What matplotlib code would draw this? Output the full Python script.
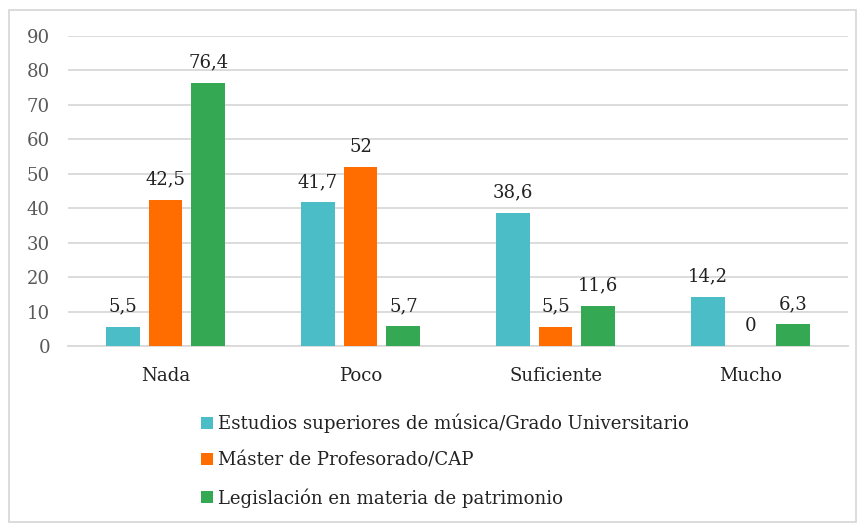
import matplotlib
matplotlib.use("Agg")
import matplotlib.pyplot as plt
import numpy as np
from matplotlib.patches import Rectangle

# data
categories = ["Nada", "Poco", "Suficiente", "Mucho"]
series_names = ["Estudios superiores de música/Grado Universitario",
                "Máster de Profesorado/CAP",
                "Legislación en materia de patrimonio"]
estudios = [5.5, 41.7, 38.6, 14.2]
master = [42.5, 52, 5.5, 0]
legislacion = [76.4, 5.7, 11.6, 6.3]
colors = ["#4ABDC6", "#FF6D00", "#35A853"]
yticks = [0, 10, 20, 30, 40, 50, 60, 70, 80, 90]

plt.rcParams["font.family"] = ["DejaVu Serif"]
fs = 13.1

fig = plt.figure(figsize=(8.62, 5.24), dpi=100)
ax = fig.add_axes([0.0789, 0.3397, 0.9049, 0.5916])

x = np.arange(len(categories))
width = 0.174
step = 0.22
all_series = [estudios, master, legislacion]
for i, (vals, name, col) in enumerate(zip(all_series, series_names, colors)):
    pos = x + (i - 1) * step
    ax.bar(pos, vals, width, color=col, label=name, zorder=3)
    for p, v in zip(pos, vals):
        label = ("%g" % v).replace(".", ",")
        ax.text(p, v + 3.3, label, ha="center", va="bottom", fontsize=fs, color="#222222")

ax.set_xlim(-0.5, 3.5)
ax.set_ylim(0, 90)
ax.set_yticks(yticks)
ax.set_yticklabels([str(t) for t in yticks], fontsize=fs, color="#595959")
ax.set_xticks(x)
ax.set_xticklabels(categories, fontsize=fs, color="#222222")
ax.tick_params(axis="both", length=0)
ax.tick_params(axis="y", pad=13)
ax.tick_params(axis="x", pad=15)
ax.grid(axis="y", color="#D9D9D9", linewidth=1.3, zorder=0)
for s in ["top", "right", "left"]:
    ax.spines[s].set_visible(False)
ax.spines["bottom"].set_color("#D9D9D9")
ax.spines["bottom"].set_linewidth(1.3)

ax.legend(loc="upper left", bbox_to_anchor=(0.15, -0.165), frameon=False,
          fontsize=fs, handlelength=0.65, handleheight=0.65, handletextpad=0.25,
          labelspacing=1.02, labelcolor="#222222")

fig.patches.append(Rectangle((0.0105, 0.004), 0.983, 0.977, transform=fig.transFigure,
                             fill=False, edgecolor="#D9D9D9", linewidth=1.3))

fig.savefig("out.png", dpi=100)
